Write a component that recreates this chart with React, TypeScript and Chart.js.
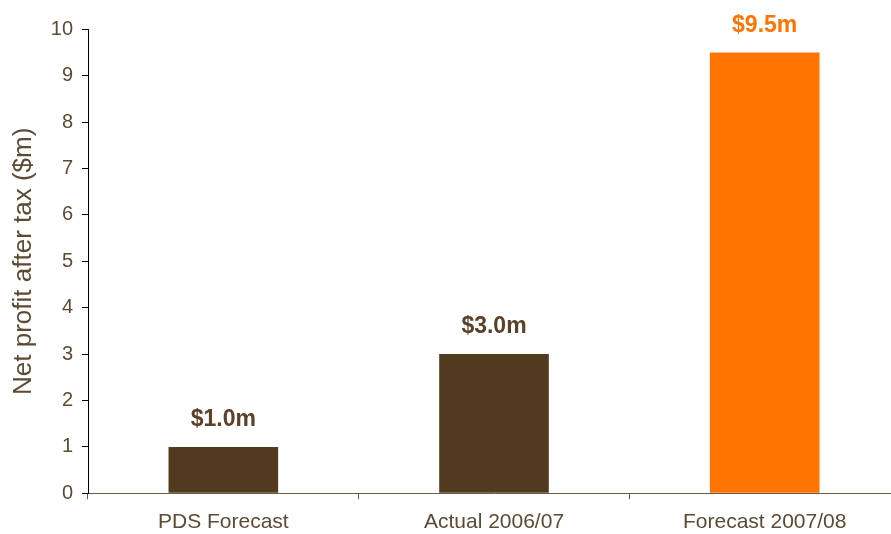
import React, { useEffect, useRef } from "react";
import { Chart, registerables } from "chart.js";

Chart.register(...registerables);

const categories = ["PDS Forecast", "Actual 2006/07", "Forecast 2007/08"];
const profitValues = [1.0, 3.0, 9.5];
const barColors = ["#523A1E", "#523A1E", "#FF7300"];
const labelColors = ["#5A4128", "#5A4128", "#FF7300"];
const yTicks = [0, 1, 2, 3, 4, 5, 6, 7, 8, 9, 10];
const yTitle = "Net profit after tax ($m)";

const FONT = "'Liberation Sans', Arial, Helvetica, sans-serif";
const TEXT = "#5C4A34";

const valueLabelPlugin = {
  id: "valueLabels",
  afterDatasetsDraw(chart: any) {
    const ctx = chart.ctx;
    const meta = chart.getDatasetMeta(0);
    ctx.save();
    ctx.font = `bold 23px ${FONT}`;
    ctx.textAlign = "center";
    ctx.textBaseline = "alphabetic";
    meta.data.forEach((bar: any, i: number) => {
      ctx.fillStyle = labelColors[i];
      ctx.fillText(`$${profitValues[i].toFixed(1)}m`, bar.x, bar.y - 21);
    });
    ctx.restore();
  },
};

export default function App() {
  const ref = useRef<HTMLCanvasElement | null>(null);
  useEffect(() => {
    if (!ref.current) return;
    const chart = new Chart(ref.current, {
      type: "bar",
      data: {
        labels: categories,
        datasets: [
          {
            data: profitValues,
            backgroundColor: barColors,
            borderWidth: 0,
            categoryPercentage: 1,
            barPercentage: 0.405,
          },
        ],
      },
      options: {
        responsive: false,
        maintainAspectRatio: false,
        animation: false,
        devicePixelRatio: 1,
        layout: { padding: { top: 29.3, left: 0, right: 0, bottom: 0 } },
        plugins: { legend: { display: false }, tooltip: { enabled: false } },
        scales: {
          x: {
            grid: {
              offset: true,
              drawOnChartArea: false,
              drawTicks: true,
              tickLength: 6,
              color: "#6E5A44",
            },
            border: { color: "#6E5A44", width: 1 },
            ticks: {
              color: TEXT,
              font: { family: FONT, size: 21 },
              padding: 10,
              maxRotation: 0,
            },
            afterFit: (s: any) => {
              s.height = 40.7;
            },
          },
          y: {
            min: 0,
            max: 10,
            afterBuildTicks: (s: any) => {
              s.ticks = yTicks.map((v) => ({ value: v }));
            },
            grid: {
              drawOnChartArea: false,
              drawTicks: true,
              tickLength: 6,
              color: "#000000",
            },
            border: { color: "#000000", width: 1 },
            ticks: {
              color: TEXT,
              font: { family: FONT, size: 20 },
              padding: 9,
            },
            title: {
              display: true,
              text: yTitle,
              color: TEXT,
              font: { family: FONT, size: 26 },
              padding: { top: 8, bottom: 0 },
            },
            afterFit: (s: any) => {
              s.width = 88;
            },
          },
        },
      },
      plugins: [valueLabelPlugin],
    });
    return () => chart.destroy();
  }, []);

  return (
    <div
      style={{
        position: "fixed",
        left: 0,
        top: 0,
        width: 891,
        height: 534,
        overflow: "hidden",
        background: "#ffffff",
      }}
    >
      <canvas ref={ref} width={900} height={534} style={{ display: "block" }} />
    </div>
  );
}
